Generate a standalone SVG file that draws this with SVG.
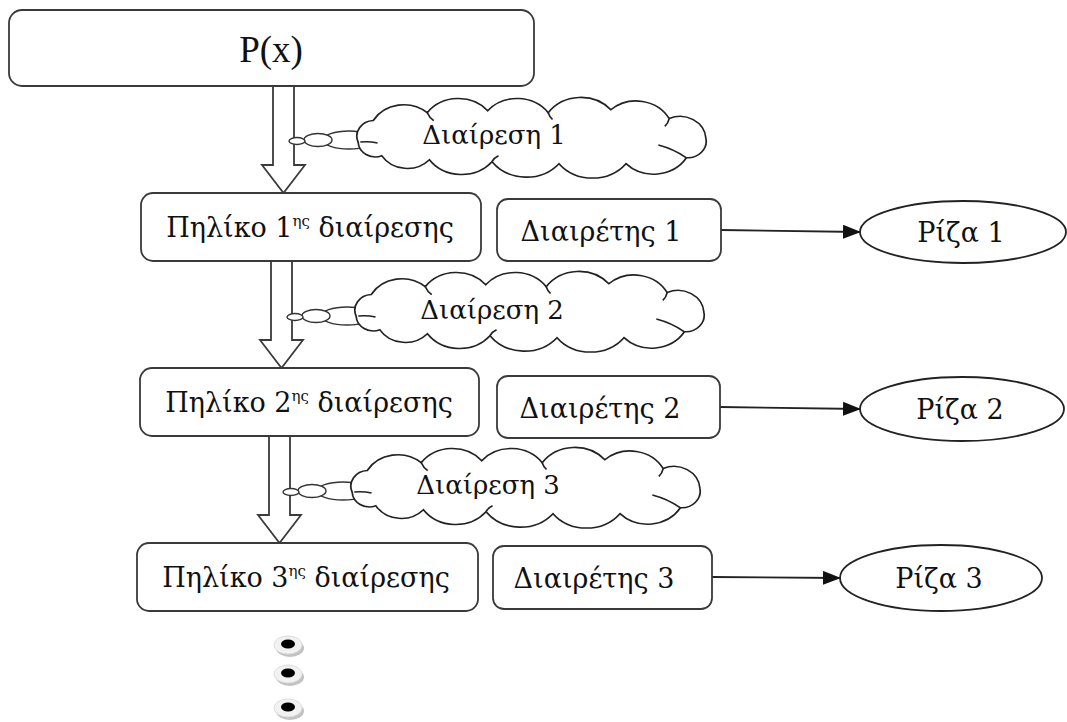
<svg xmlns="http://www.w3.org/2000/svg" width="1067" height="722" viewBox="0 0 1067 722">
<defs>
<style>
.box{fill:#fff;stroke:#3a3a3a;stroke-width:1.8}
.ell{fill:#fff;stroke:#222;stroke-width:1.8}
.blk{fill:#fff;stroke:#3a3a3a;stroke-width:1.8;stroke-linejoin:miter}
.cl{fill:#fff;stroke:#222;stroke-width:1.6}
.inner{fill:none;stroke:#222;stroke-width:1.6}
.bub{fill:#fff;stroke:#333;stroke-width:1.4}
.con{stroke:#222;stroke-width:1.8;fill:none}
text{font-family:"DejaVu Serif","Liberation Serif",serif;fill:#111;text-anchor:middle}
.t28{font-size:27px}
.t26{font-size:26px}
.sup{font-size:15px}
</style>
<marker id="ah" markerWidth="18" markerHeight="14" refX="17" refY="7" orient="auto" markerUnits="userSpaceOnUse">
<path d="M0,0 L18,7 L0,14 Z" fill="#111"/>
</marker>
<path id="cloud" d="M14,46 A16 16 0 0 1 28,24 A33 33 0 0 1 78,16 A36 36 0 0 1 134,14 A36 36 0 0 1 190,16 A37 37 0 0 1 248,13 A35 35 0 0 1 302,22 A24 24 0 0 1 336,42 A17 17 0 0 1 318,62 A36 36 0 0 1 262,68 A40 40 0 0 1 200,68 A40 40 0 0 1 138,66 A37 37 0 0 1 80,64 A28 28 0 0 1 36,60 A16 16 0 0 1 14,46 Z"/>
<path id="cloudin" d="M16,46 Q24,45 32,47 M78,16 Q80,21 84,24 M190,16 Q191,20 194,23 M302,22 Q301,27 298,30 M318,62 Q306,53 292,49 M138,66 Q140,62 144,60"/>
<g id="dot">
<ellipse cx="2" cy="3" rx="14" ry="9" fill="#9a9a9a" opacity="0.6"/>
<ellipse cx="0" cy="0" rx="14" ry="9" fill="#f2f2f2" stroke="#ddd" stroke-width="1"/>
<ellipse cx="0" cy="-1" rx="7" ry="4.5" fill="#000"/>
</g>
</defs>
<rect width="1067" height="722" fill="#fff"/>

<g id="connectors">
<polygon class="blk" points="273,86 294,86 294,165 305,165 283.5,193 262,165 273,165 273,86"/>
<polygon class="blk" points="271,261 292,261 292,340 303,340 281.5,368 260,340 271,340 271,261"/>
<polygon class="blk" points="269,436 290,436 290,515 301,515 279.5,543 258,515 269,515 269,436"/>
<line class="con" x1="721" y1="230" x2="860" y2="232" marker-end="url(#ah)"/>
<line class="con" x1="720" y1="407" x2="860" y2="409" marker-end="url(#ah)"/>
<line class="con" x1="712" y1="577" x2="840" y2="578" marker-end="url(#ah)"/>
</g>

<g id="cloud1">
<ellipse class="bub" cx="349" cy="140" rx="26" ry="9"/>
<ellipse class="bub" cx="318" cy="140" rx="14" ry="6.5"/>
<ellipse class="bub" cx="297" cy="141" rx="8" ry="3.5"/>
<g transform="translate(343,97) scale(1.08,0.98)"><use href="#cloud" class="cl"/><use href="#cloudin" class="inner"/></g>
<text class="t26" x="494" y="144">Διαίρεση 1</text>
</g>
<g id="cloud2">
<ellipse class="bub" cx="347" cy="316" rx="26" ry="9"/>
<ellipse class="bub" cx="316" cy="316" rx="14" ry="6.5"/>
<ellipse class="bub" cx="295" cy="317" rx="8" ry="3.5"/>
<g transform="translate(341,271) scale(1.08,0.98)"><use href="#cloud" class="cl"/><use href="#cloudin" class="inner"/></g>
<text class="t26" x="492" y="319">Διαίρεση 2</text>
</g>
<g id="cloud3">
<ellipse class="bub" cx="343" cy="491" rx="26" ry="9"/>
<ellipse class="bub" cx="312" cy="491" rx="14" ry="6.5"/>
<ellipse class="bub" cx="291" cy="492" rx="8" ry="3.5"/>
<g transform="translate(337,447) scale(1.08,0.98)"><use href="#cloud" class="cl"/><use href="#cloudin" class="inner"/></g>
<text class="t26" x="488" y="494">Διαίρεση 3</text>
</g>

<g id="px">
<rect class="box" x="9" y="10" width="525" height="76" rx="13"/>
<text x="271" y="62" style="font-size:37px;font-family:'Liberation Serif',serif">P(x)</text>
</g>

<g id="q1">
<rect class="box" x="141" y="193" width="340" height="68" rx="12"/>
<text class="t28" x="310" y="237">Πηλίκο 1<tspan class="sup" dy="-11">ης</tspan><tspan dy="11"> διαίρεσης</tspan></text>
</g>
<g id="d1">
<rect class="box" x="497" y="199" width="224" height="62" rx="11"/>
<text class="t28" x="601" y="241">Διαιρέτης 1</text>
</g>
<g id="r1">
<ellipse class="ell" cx="963" cy="232" rx="103" ry="31"/>
<text class="t28" x="961" y="242">Ρίζα 1</text>
</g>

<g id="q2">
<rect class="box" x="140" y="368" width="339" height="68" rx="12"/>
<text class="t28" x="309" y="412">Πηλίκο 2<tspan class="sup" dy="-11">ης</tspan><tspan dy="11"> διαίρεσης</tspan></text>
</g>
<g id="d2">
<rect class="box" x="497" y="376" width="223" height="62" rx="11"/>
<text class="t28" x="600" y="418">Διαιρέτης 2</text>
</g>
<g id="r2">
<ellipse class="ell" cx="962" cy="409" rx="102" ry="32"/>
<text class="t28" x="960" y="419">Ρίζα 2</text>
</g>

<g id="q3">
<rect class="box" x="137" y="543" width="341" height="68" rx="12"/>
<text class="t28" x="306" y="587">Πηλίκο 3<tspan class="sup" dy="-11">ης</tspan><tspan dy="11"> διαίρεσης</tspan></text>
</g>
<g id="d3">
<rect class="box" x="493" y="546" width="219" height="63" rx="11"/>
<text class="t28" x="594" y="588">Διαιρέτης 3</text>
</g>
<g id="r3">
<ellipse class="ell" cx="941" cy="578" rx="101" ry="33"/>
<text class="t28" x="939" y="588">Ρίζα 3</text>
</g>

<g id="dots">
<use href="#dot" transform="translate(288,645)"/>
<use href="#dot" transform="translate(288,674)"/>
<use href="#dot" transform="translate(288,708)"/>
</g>
</svg>
